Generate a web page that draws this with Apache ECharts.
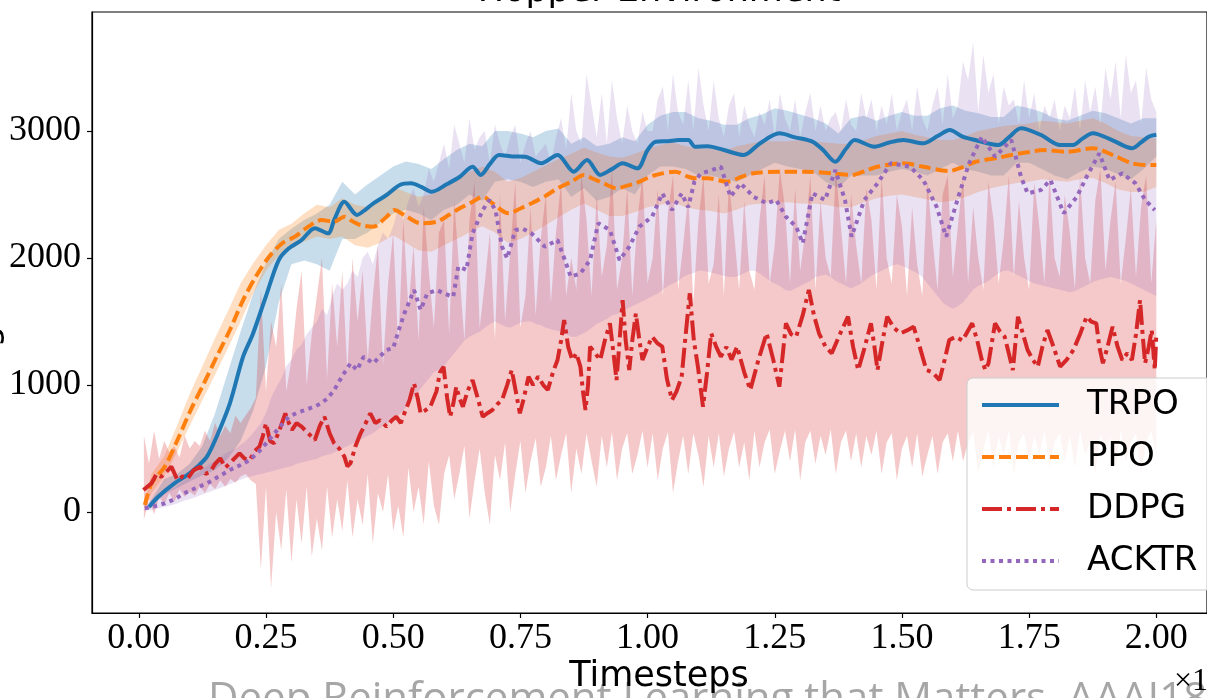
<!DOCTYPE html>
<html>
<head>
<meta charset="utf-8">
<script src="https://cdn.jsdelivr.net/npm/echarts@6/dist/echarts.min.js"></script>
<style>
  html, body { margin: 0; padding: 0; background: #ffffff; }
  #chart { width: 1207px; height: 698px; }
</style>
</head>
<body>
<div id="chart"></div>
<script>
// Axis ticks: timesteps (x 10^6) and average return
const xTicks = [0, 0.25, 0.5, 0.75, 1.0, 1.25, 1.5, 1.75, 2.0];
const yTicks = [0, 1000, 2000, 3000];
const algorithms = ['TRPO', 'PPO', 'DDPG', 'ACKTR'];

// Mean return curves: [timestep (x 10^6), average return]
const trpoMean = [
  [0.02, 40], [0.038, 120], [0.07, 226], [0.095, 290], [0.115, 357], [0.134, 436], [0.153, 593],
  [0.179, 856], [0.205, 1223], [0.224, 1400], [0.25, 1700], [0.275, 1984], [0.295, 2076], [0.32, 2142],
  [0.346, 2234], [0.372, 2194], [0.384, 2299], [0.404, 2443], [0.429, 2339], [0.445, 2380], [0.461, 2431],
  [0.487, 2496], [0.513, 2575], [0.535, 2588], [0.555, 2560], [0.576, 2522], [0.605, 2580], [0.631, 2640],
  [0.656, 2719], [0.672, 2654], [0.69, 2740], [0.708, 2811], [0.735, 2800], [0.759, 2798], [0.791, 2746],
  [0.823, 2811], [0.855, 2680], [0.881, 2772], [0.907, 2654], [0.93, 2700], [0.951, 2746], [0.98, 2706],
  [1.0, 2850], [1.016, 2916], [1.04, 2920], [1.061, 2929], [1.08, 2929], [1.093, 2877], [1.118, 2880],
  [1.15, 2850], [1.189, 2811], [1.22, 2900], [1.259, 2982], [1.29, 2950], [1.324, 2916], [1.345, 2850],
  [1.369, 2758], [1.39, 2860], [1.407, 2929], [1.446, 2877], [1.475, 2910], [1.503, 2929], [1.542, 2903],
  [1.57, 2960], [1.594, 3008], [1.619, 2955], [1.644, 2929], [1.69, 2890], [1.71, 2950], [1.734, 3021],
  [1.773, 2969], [1.811, 2890], [1.836, 2890], [1.855, 2940], [1.875, 2982], [1.913, 2929], [1.952, 2864],
  [1.97, 2910], [1.985, 2955], [2.0, 2970]
];

const ppoMean = [
  [0.012, 55], [0.025, 226], [0.051, 357], [0.076, 567], [0.102, 803], [0.128, 1013], [0.153, 1223],
  [0.179, 1433], [0.205, 1669], [0.23, 1853], [0.256, 2010], [0.282, 2116], [0.307, 2168], [0.333, 2247],
  [0.359, 2299], [0.384, 2286], [0.404, 2325], [0.42, 2290], [0.436, 2260], [0.461, 2247], [0.487, 2325],
  [0.502, 2378], [0.525, 2330], [0.554, 2273], [0.586, 2286], [0.61, 2340], [0.631, 2391], [0.655, 2440],
  [0.676, 2483], [0.695, 2431], [0.727, 2352], [0.75, 2390], [0.772, 2431], [0.8, 2490], [0.823, 2549],
  [0.85, 2600], [0.875, 2654], [0.895, 2620], [0.913, 2589], [0.939, 2549], [0.96, 2570], [0.977, 2589],
  [1.0, 2630], [1.016, 2654], [1.054, 2680], [1.08, 2640], [1.093, 2628], [1.118, 2628], [1.157, 2601],
  [1.185, 2640], [1.208, 2667], [1.259, 2680], [1.311, 2680], [1.362, 2667], [1.401, 2654], [1.43, 2690],
  [1.452, 2719], [1.503, 2746], [1.542, 2719], [1.593, 2685], [1.619, 2715], [1.645, 2758], [1.69, 2790],
  [1.715, 2811], [1.75, 2835], [1.779, 2850], [1.824, 2837], [1.876, 2864], [1.914, 2811], [1.952, 2746],
  [1.978, 2732], [2.0, 2732]
];

const ddpgMean = [
  [0.009, 173], [0.025, 226], [0.035, 300], [0.044, 278], [0.055, 320], [0.064, 357], [0.076, 252],
  [0.086, 280], [0.096, 265], [0.108, 330], [0.121, 357], [0.131, 300], [0.141, 318], [0.15, 380],
  [0.16, 423], [0.17, 350], [0.179, 383], [0.19, 430], [0.198, 462], [0.208, 420], [0.218, 409],
  [0.228, 480], [0.237, 514], [0.244, 600], [0.25, 698], [0.258, 560], [0.266, 541], [0.277, 650],
  [0.288, 777], [0.295, 700], [0.301, 646], [0.31, 700], [0.32, 672], [0.333, 620], [0.346, 567],
  [0.356, 680], [0.365, 750], [0.375, 620], [0.384, 541], [0.394, 500], [0.404, 436], [0.41, 360],
  [0.416, 383], [0.426, 520], [0.436, 620], [0.446, 700], [0.455, 777], [0.465, 700], [0.474, 724],
  [0.487, 672], [0.497, 720], [0.506, 750], [0.515, 700], [0.522, 777], [0.532, 880], [0.541, 1013],
  [0.548, 900], [0.554, 777], [0.563, 800], [0.573, 829], [0.585, 950], [0.592, 1100], [0.599, 1144],
  [0.606, 900], [0.612, 750], [0.618, 850], [0.624, 987], [0.63, 900], [0.637, 829], [0.646, 950],
  [0.656, 1039], [0.666, 900], [0.676, 750], [0.686, 780], [0.695, 803], [0.705, 850], [0.714, 882],
  [0.724, 1000], [0.733, 1118], [0.741, 950], [0.749, 777], [0.757, 900], [0.766, 1066], [0.775, 1000],
  [0.785, 1066], [0.795, 1000], [0.804, 961], [0.814, 1100], [0.823, 1197], [0.83, 1350], [0.836, 1512],
  [0.844, 1300], [0.852, 1197], [0.86, 1250], [0.868, 1144], [0.873, 950], [0.878, 803], [0.883, 1000],
  [0.887, 1302], [0.897, 1250], [0.907, 1197], [0.916, 1350], [0.926, 1486], [0.933, 1250], [0.939, 1039],
  [0.945, 1350], [0.951, 1669], [0.957, 1350], [0.964, 1118], [0.97, 1350], [0.977, 1564], [0.984, 1350],
  [0.99, 1197], [1.0, 1300], [1.009, 1380], [1.019, 1330], [1.029, 1302], [1.038, 1050], [1.048, 882],
  [1.057, 950], [1.067, 1066], [1.075, 1400], [1.083, 1722], [1.091, 1350], [1.099, 1144], [1.109, 829],
  [1.117, 1100], [1.125, 1407], [1.135, 1300], [1.144, 1223], [1.155, 1300], [1.165, 1200], [1.176, 1302],
  [1.19, 1100], [1.202, 961], [1.218, 1200], [1.234, 1407], [1.247, 1200], [1.259, 987], [1.266, 1250],
  [1.272, 1486], [1.282, 1400], [1.292, 1380], [1.305, 1550], [1.317, 1748], [1.327, 1550], [1.337, 1407],
  [1.35, 1300], [1.362, 1250], [1.378, 1400], [1.394, 1538], [1.404, 1300], [1.414, 1118], [1.427, 1300],
  [1.439, 1486], [1.446, 1300], [1.452, 1118], [1.462, 1350], [1.471, 1538], [1.484, 1450], [1.497, 1407],
  [1.51, 1430], [1.523, 1459], [1.535, 1300], [1.548, 1118], [1.56, 1100], [1.574, 1039], [1.584, 1200],
  [1.593, 1354], [1.606, 1380], [1.619, 1350], [1.638, 1486], [1.648, 1350], [1.657, 1197], [1.664, 1118],
  [1.67, 1171], [1.683, 1486], [1.693, 1420], [1.702, 1380], [1.71, 1250], [1.718, 1118], [1.728, 1538],
  [1.738, 1400], [1.747, 1276], [1.757, 1200], [1.767, 1144], [1.776, 1300], [1.786, 1433], [1.798, 1300],
  [1.811, 1144], [1.824, 1200], [1.837, 1276], [1.85, 1400], [1.863, 1538], [1.872, 1500], [1.882, 1486],
  [1.888, 1300], [1.895, 1171], [1.904, 1300], [1.914, 1459], [1.924, 1300], [1.933, 1197], [1.943, 1250],
  [1.952, 1197], [1.96, 1400], [1.968, 1669], [1.973, 1400], [1.978, 1171], [1.985, 1300], [1.991, 1433],
  [1.997, 1118], [2.0, 1400]
];

const acktrMean = [
  [0.012, 29], [0.03, 45], [0.051, 68], [0.07, 100], [0.089, 147], [0.11, 185], [0.134, 226], [0.155, 275],
  [0.179, 331], [0.2, 370], [0.218, 409], [0.237, 480], [0.256, 567], [0.275, 660], [0.295, 750], [0.31, 780],
  [0.327, 803], [0.345, 830], [0.359, 856], [0.372, 900], [0.384, 961], [0.4, 1070], [0.416, 1171],
  [0.429, 1118], [0.442, 1223], [0.461, 1171], [0.475, 1230], [0.487, 1276], [0.5, 1290], [0.51, 1420],
  [0.522, 1564], [0.541, 1748], [0.554, 1591], [0.567, 1722], [0.586, 1748], [0.6, 1720], [0.618, 1695],
  [0.628, 1932], [0.644, 1906], [0.656, 2194], [0.676, 2378], [0.689, 2457], [0.701, 2378], [0.714, 2089],
  [0.724, 1997], [0.74, 2220], [0.755, 2230], [0.772, 2194], [0.798, 2089], [0.823, 2142], [0.836, 2000],
  [0.849, 1853], [0.868, 1879], [0.887, 1984], [0.903, 2273], [0.926, 2220], [0.945, 1984], [0.964, 2089],
  [0.984, 2247], [1.009, 2325], [1.029, 2509], [1.048, 2378], [1.067, 2509], [1.08, 2400], [1.092, 2600],
  [1.105, 2667], [1.125, 2690], [1.144, 2719], [1.163, 2483], [1.183, 2588], [1.208, 2483], [1.234, 2431],
  [1.253, 2457], [1.272, 2325], [1.292, 2247], [1.305, 2116], [1.324, 2509], [1.349, 2457], [1.369, 2693],
  [1.388, 2457], [1.401, 2168], [1.426, 2457], [1.452, 2588], [1.478, 2746], [1.516, 2719], [1.542, 2614],
  [1.568, 2404], [1.587, 2168], [1.613, 2509], [1.632, 2746], [1.657, 2955], [1.683, 2798], [1.715, 2929],
  [1.734, 2640], [1.747, 2509], [1.773, 2535], [1.792, 2614], [1.818, 2352], [1.844, 2483], [1.863, 2640],
  [1.888, 2824], [1.908, 2614], [1.933, 2667], [1.959, 2588], [1.978, 2457], [1.997, 2378]
];

// Spread bands for TRPO and PPO: [timestep, lower, upper]
const trpoBand = [
  [0.02, 20, 70], [0.05, 140, 260], [0.075, 190, 300], [0.1, 240, 380], [0.125, 290, 520], [0.15, 330, 780],
  [0.175, 420, 1100], [0.2, 560, 1420], [0.225, 800, 1720], [0.25, 1150, 1960], [0.275, 1650, 2150],
  [0.3, 1950, 2230], [0.325, 1980, 2300], [0.35, 1950, 2350], [0.375, 1900, 2420], [0.4, 2150, 2600],
  [0.425, 2150, 2500], [0.45, 2200, 2580], [0.475, 2280, 2650], [0.5, 2350, 2720], [0.525, 2380, 2760],
  [0.55, 2350, 2740], [0.575, 2300, 2700], [0.6, 2380, 2780], [0.625, 2420, 2850], [0.65, 2500, 2900],
  [0.675, 2450, 2880], [0.7, 2600, 3000], [0.725, 2620, 3000], [0.75, 2600, 2980], [0.775, 2560, 2950],
  [0.8, 2600, 3000], [0.825, 2620, 3020], [0.85, 2480, 2900], [0.875, 2550, 2950], [0.9, 2450, 2880],
  [0.925, 2480, 2900], [0.95, 2550, 2950], [0.975, 2500, 2920], [1.0, 2650, 3050], [1.025, 2720, 3120],
  [1.05, 2720, 3150], [1.075, 2700, 3150], [1.1, 2650, 3100], [1.125, 2650, 3080], [1.15, 2620, 3050],
  [1.175, 2600, 3050], [1.2, 2650, 3100], [1.225, 2700, 3130], [1.25, 2750, 3180], [1.275, 2720, 3160],
  [1.3, 2700, 3130], [1.325, 2680, 3100], [1.35, 2600, 3060], [1.375, 2550, 2980], [1.4, 2650, 3100],
  [1.425, 2650, 3120], [1.45, 2650, 3080], [1.475, 2680, 3120], [1.5, 2700, 3150], [1.525, 2680, 3120],
  [1.55, 2650, 3120], [1.575, 2700, 3180], [1.6, 2750, 3200], [1.625, 2700, 3160], [1.65, 2680, 3140],
  [1.675, 2650, 3110], [1.7, 2650, 3110], [1.725, 2750, 3200], [1.75, 2750, 3180], [1.775, 2700, 3150],
  [1.8, 2650, 3100], [1.825, 2620, 3080], [1.85, 2680, 3120], [1.875, 2720, 3160], [1.9, 2700, 3140],
  [1.925, 2660, 3100], [1.95, 2620, 3060], [1.975, 2700, 3100], [2.0, 2800, 3100]
];

const ppoBand = [
  [0.012, 20, 100], [0.025, 150, 300], [0.05, 280, 440], [0.075, 470, 680], [0.1, 680, 930],
  [0.125, 880, 1150], [0.15, 1080, 1370], [0.175, 1290, 1580], [0.2, 1500, 1800], [0.225, 1720, 1960],
  [0.25, 1900, 2100], [0.275, 2020, 2220], [0.3, 2070, 2270], [0.325, 2130, 2350], [0.35, 2170, 2420],
  [0.375, 2150, 2400], [0.4, 2170, 2470], [0.425, 2100, 2420], [0.45, 2080, 2400], [0.475, 2120, 2480],
  [0.5, 2180, 2560], [0.525, 2120, 2520], [0.55, 2060, 2480], [0.575, 2050, 2500], [0.6, 2100, 2560],
  [0.625, 2150, 2620], [0.65, 2200, 2680], [0.675, 2250, 2720], [0.7, 2200, 2680], [0.725, 2120, 2600],
  [0.75, 2150, 2630], [0.775, 2200, 2680], [0.8, 2260, 2730], [0.825, 2320, 2780], [0.85, 2380, 2820],
  [0.875, 2430, 2870], [0.9, 2380, 2830], [0.925, 2330, 2800], [0.95, 2330, 2790], [0.975, 2360, 2820],
  [1.0, 2400, 2860], [1.025, 2420, 2890], [1.05, 2440, 2910], [1.075, 2400, 2880], [1.1, 2380, 2860],
  [1.125, 2370, 2860], [1.15, 2350, 2840], [1.175, 2380, 2880], [1.2, 2420, 2900], [1.225, 2430, 2920],
  [1.25, 2440, 2920], [1.275, 2440, 2920], [1.3, 2430, 2930], [1.325, 2430, 2920], [1.35, 2420, 2910],
  [1.375, 2400, 2900], [1.4, 2400, 2900], [1.425, 2440, 2930], [1.45, 2470, 2960], [1.475, 2490, 2980],
  [1.5, 2500, 3000], [1.525, 2480, 2970], [1.55, 2460, 2950], [1.575, 2440, 2930], [1.6, 2450, 2930],
  [1.625, 2480, 2960], [1.65, 2520, 3000], [1.675, 2550, 3020], [1.7, 2570, 3040], [1.725, 2590, 3050],
  [1.75, 2600, 3060], [1.775, 2620, 3080], [1.8, 2610, 3070], [1.825, 2600, 3060], [1.85, 2620, 3080],
  [1.875, 2630, 3100], [1.9, 2590, 3060], [1.925, 2540, 3000], [1.95, 2520, 2960], [1.975, 2520, 2950],
  [2.0, 2560, 2940]
];

// Spread bands for DDPG and ACKTR, one value per 0.01 x 10^6 timesteps (0.01 ... 2.00)
const ddpgLow = [
  -60, 100, -20, 120, 60, 150, 80, 180, 120, 160, 130, 200, 150, 220, 180, 250, 200, 260, 230, 280,
  300, 250, 220, -450, 200, -600, 0, -300, 180, -400, 100, -250, 200, -350, -50, -300, 200, -200, 100, -150,
  250, -200, 100, -100, 300, -250, 150, 0, 300, -150, 50, -200, 350, 0, 200, -100, 400, 50, -100, 300,
  450, 100, 300, 520, -50, 250, 500, 150, -100, 450, 250, 550, 0, 300, 560, 150, 400, 580, 200, 350,
  600, 250, 450, 620, 150, 500, 300, 620, 400, 200, 600, 350, 630, 250, 500, 620, 300, 450, 640, 350,
  620, 250, 500, 630, 150, 400, 600, 300, 620, 450, 200, 600, 350, 620, 280, 500, 630, 350, 550, 250,
  640, 350, 550, 650, 300, 480, 640, 400, 650, 250, 550, 640, 380, 600, 450, 650, 300, 550, 640, 400,
  620, 350, 600, 450, 640, 300, 550, 620, 250, 500, 600, 350, 620, 280, 450, 600, 300, 550, 620, 400,
  640, 400, 550, 630, 300, 500, 640, 350, 600, 450, 640, 300, 550, 620, 380, 600, 450, 640, 350, 550,
  620, 400, 600, 350, 640, 450, 550, 300, 620, 450, 600, 350, 640, 400, 550, 620, 300, 550, 640, 450
];
const ddpgHigh = [
  600, 380, 640, 420, 560, 470, 520, 430, 600, 500, 560, 520, 640, 560, 700, 600, 680, 620, 760, 700,
  760, 820, 900, 1750, 950, 1500, 1300, 1800, 950, 1200, 1600, 1900, 1000, 1400, 1700, 2000, 1050, 1800, 1300, 1900,
  1100, 2000, 1500, 1900, 1200, 1700, 2100, 1150, 1800, 2200, 1300, 2300, 1600, 2100, 1350, 2400, 1900, 1450, 2200, 2300,
  1400, 2450, 1900, 1350, 2300, 2600, 1450, 1800, 2200, 1350, 2500, 1500, 2050, 2600, 1450, 1700, 2400, 1550, 2150, 2500,
  1650, 2200, 2600, 1700, 2000, 1750, 2650, 2300, 1700, 2500, 1850, 2100, 2700, 1750, 2000, 2550, 1700, 2300, 2650, 1800,
  2000, 2550, 1700, 2350, 2650, 1750, 2100, 2500, 1650, 2300, 2650, 1800, 1950, 2500, 1700, 2600, 2200, 1750, 2450, 1900,
  1750, 2300, 2650, 1800, 2100, 2700, 2400, 1800, 2550, 1900, 2200, 2650, 1750, 2450, 2000, 1850, 2700, 2250, 1800, 2500,
  2100, 1800, 2550, 2300, 1750, 2650, 2000, 1800, 2500, 2250, 1700, 2400, 1950, 1700, 2600, 2150, 1750, 2500, 2650, 1850,
  2250, 2650, 1800, 2400, 2000, 1750, 2600, 2300, 1800, 2150, 2650, 1850, 2450, 2000, 1750, 2600, 2250, 1800, 2650, 2000,
  1850, 2500, 2200, 1750, 2650, 2000, 1800, 2450, 2700, 1900, 2300, 2600, 1800, 2150, 2550, 1850, 2400, 2650, 1800, 2300
];
const acktrLow = [
  10, 15, 20, 30, 40, 50, 60, 75, 90, 100, 115, 130, 145, 160, 175, 190, 205, 220, 240, 255,
  270, 280, 290, 300, 310, 320, 330, 340, 350, 360, 380, 390, 400, 410, 420, 440, 450, 460, 480, 500,
  520, 540, 560, 580, 600, 620, 650, 680, 700, 730, 760, 800, 850, 900, 950, 1000, 1050, 1100, 1120, 1150,
  1200, 1250, 1300, 1350, 1380, 1400, 1420, 1450, 1480, 1500, 1480, 1460, 1450, 1470, 1490, 1500, 1500, 1480, 1470, 1450,
  1440, 1430, 1420, 1400, 1380, 1380, 1400, 1420, 1450, 1480, 1500, 1520, 1550, 1560, 1580, 1600, 1620, 1640, 1660, 1680,
  1700, 1720, 1750, 1780, 1800, 1820, 1850, 1870, 1880, 1900, 1900, 1890, 1880, 1870, 1860, 1850, 1850, 1860, 1880, 1900,
  1900, 1880, 1850, 1820, 1800, 1780, 1750, 1740, 1760, 1780, 1800, 1820, 1850, 1860, 1870, 1850, 1820, 1800, 1780, 1760,
  1780, 1800, 1830, 1860, 1880, 1900, 1920, 1940, 1950, 1940, 1920, 1900, 1880, 1850, 1800, 1750, 1700, 1650, 1620, 1600,
  1620, 1650, 1700, 1750, 1780, 1800, 1820, 1850, 1880, 1900, 1900, 1880, 1860, 1840, 1820, 1800, 1790, 1780, 1770, 1760,
  1750, 1740, 1730, 1740, 1760, 1780, 1800, 1820, 1830, 1840, 1850, 1840, 1830, 1820, 1800, 1780, 1760, 1740, 1720, 1700
];
const acktrHigh = [
  60, 80, 100, 130, 150, 170, 190, 220, 250, 270, 300, 320, 350, 380, 400, 430, 460, 480, 500, 530,
  560, 600, 650, 700, 780, 900, 980, 1050, 1150, 1200, 1280, 1320, 1400, 1450, 1500, 1600, 1550, 1700, 1800, 1750,
  1800, 1900, 1850, 2000, 2050, 1950, 2100, 2200, 2150, 2250, 2400, 2300, 2450, 2550, 2400, 2500, 2700, 2600, 2750, 2900,
  2700, 3050, 2900, 2750, 3100, 2850, 2950, 3000, 2750, 3050, 2900, 2800, 2950, 3050, 2750, 2900, 3000, 2800, 2850, 2900,
  2750, 2950, 3100, 2850, 3300, 3000, 2900, 3450, 3200, 2950, 3300, 2900, 3400, 3100, 2900, 3200, 3000, 2900, 3150, 3000,
  3000, 3250, 3350, 3000, 3450, 3150, 3050, 3400, 3000, 3500, 3200, 3000, 3400, 3100, 2950, 3200, 3300, 2950, 3200, 3050,
  2950, 3150, 3050, 3250, 2950, 3300, 3100, 3000, 3250, 2950, 3150, 3300, 3000, 3200, 3000, 3100, 3150, 3000, 3250, 3050,
  3000, 3300, 3100, 3250, 3000, 3200, 3050, 3300, 3000, 3150, 3250, 3000, 3350, 3100, 3000, 3200, 3350, 3050, 3450, 3100,
  3200, 3550, 3400, 3700, 3150, 3600, 3300, 3450, 3050, 3350, 3200, 3250, 3050, 3400, 3100, 3300, 3000, 3200, 3100, 3250,
  3000, 3200, 3100, 3350, 3000, 3400, 3150, 3350, 3050, 3500, 3250, 3550, 3100, 3600, 3300, 3400, 3050, 3500, 3250, 3150
];

const COLORS = { TRPO: '#1f77b4', PPO: '#ff7f0e', DDPG: '#d62728', ACKTR: '#9467bd' };
const LW = 4;
const DASH = {
  TRPO: 'solid',
  PPO: [12, 5],
  DDPG: [20, 5, 4, 5],
  ACKTR: [4, 4.5]
};

// pair a per-0.01 sample list with its timestep
function gridRows(low, high) {
  return low.map((v, i) => [(i + 1) / 100, v, high[i]]);
}

// shaded spread drawn as a single polygon through the axis scales
function bandSeries(rows, color, opacity) {
  return {
    type: 'custom',
    silent: true,
    clip: true,
    data: rows,
    encode: { x: 0, y: [1, 2] },
    z: 2,
    renderItem: function (params, api) {
      if (params.dataIndex !== 0) return null;
      const upper = rows.map(r => api.coord([r[0], r[2]]));
      const lower = rows.map(r => api.coord([r[0], r[1]])).reverse();
      return {
        type: 'polygon',
        shape: { points: upper.concat(lower) },
        style: { fill: color, opacity: opacity, stroke: null }
      };
    }
  };
}

function lineSeries(name, data, smooth) {
  return {
    name: name,
    type: 'line',
    data: data,
    symbol: 'none',
    showSymbol: false,
    smooth: smooth,
    z: 3,
    itemStyle: { color: COLORS[name] },
    lineStyle: { color: COLORS[name], width: LW, type: DASH[name], cap: 'butt' }
  };
}

const chart = echarts.init(document.getElementById('chart'), null, { renderer: 'canvas' });

const option = {
  animation: false,
  backgroundColor: '#ffffff',
  grid: {
    left: 92, top: 12, right: -22, bottom: 85,
    show: true, borderColor: '#000000', borderWidth: 1.2, backgroundColor: 'transparent'
  },
  xAxis: {
    type: 'value',
    min: -0.092, max: 2.0996,
    axisLine: { onZero: false, lineStyle: { color: '#000000', width: 1.2 } },
    axisTick: { customValues: xTicks, length: 5, lineStyle: { color: '#000000', width: 1.2 } },
    axisLabel: {
      customValues: xTicks,
      margin: 8,
      color: '#000000',
      fontFamily: 'Liberation Serif',
      fontSize: 36,
      formatter: v => v.toFixed(2)
    },
    splitLine: { show: false }
  },
  yAxis: {
    type: 'value',
    min: -795, max: 3937,
    axisLine: { onZero: false, lineStyle: { color: '#000000', width: 1.2 } },
    axisTick: { customValues: yTicks, length: 5, lineStyle: { color: '#000000', width: 1.2 } },
    axisLabel: {
      customValues: yTicks,
      margin: 11,
      color: '#000000',
      fontFamily: 'Liberation Serif',
      fontSize: 36,
      formatter: v => String(v)
    },
    splitLine: { show: false }
  },
  legend: {
    data: algorithms,
    orient: 'vertical',
    left: 967, top: 378,
    padding: [7, 24, 9, 13],
    itemWidth: 77,
    itemHeight: 14,
    itemGap: 12,
    backgroundColor: 'rgba(255,255,255,0.8)',
    borderColor: '#cccccc',
    borderWidth: 1,
    borderRadius: 6,
    selectedMode: false,
    itemStyle: { opacity: 0 },
    lineStyle: { width: LW },
    textStyle: {
      fontFamily: 'DejaVu Sans',
      fontSize: 34,
      color: '#000000',
      lineHeight: 40,
      padding: [0, 0, 0, 23]
    }
  },
  graphic: [
    {
      type: 'text', x: 659, y: -8, z: 10,
      style: {
        text: 'Hopper Environment', fill: '#000000',
        font: '35px "DejaVu Sans"', textAlign: 'center', align: 'center',
        textVerticalAlign: 'middle', verticalAlign: 'middle'
      }
    },
    {
      type: 'text', x: -12, y: 312, rotation: Math.PI / 2, z: 10,
      style: {
        text: 'Average Return', fill: '#000000',
        font: '35px "DejaVu Sans"', textAlign: 'center', align: 'center',
        textVerticalAlign: 'middle', verticalAlign: 'middle'
      }
    },
    {
      type: 'text', x: 208, y: 700, z: 9,
      style: {
        text: 'Deep Reinforcement Learning that Matters, AAAI18', fill: '#a6a6a6',
        font: '42px "Open Sans"', textAlign: 'left', align: 'left',
        textVerticalAlign: 'middle', verticalAlign: 'middle'
      }
    },
    {
      type: 'text', x: 659, y: 677, z: 11,
      style: {
        text: 'Timesteps', fill: '#000000',
        font: '35px "DejaVu Sans"', textAlign: 'center', align: 'center',
        textVerticalAlign: 'middle', verticalAlign: 'middle'
      }
    },
    {
      type: 'text', x: 1174, y: 682, z: 11,
      style: {
        text: '\u00d710\u2076', fill: '#000000',
        font: '32px "Liberation Serif"', textAlign: 'left', align: 'left',
        textVerticalAlign: 'middle', verticalAlign: 'middle'
      }
    }
  ],
  series: [
    bandSeries(trpoBand, COLORS.TRPO, 0.25),
    bandSeries(ppoBand, COLORS.PPO, 0.25),
    bandSeries(gridRows(ddpgLow, ddpgHigh), COLORS.DDPG, 0.25),
    bandSeries(gridRows(acktrLow, acktrHigh), COLORS.ACKTR, 0.2),
    lineSeries('TRPO', trpoMean, 0.3),
    lineSeries('PPO', ppoMean, 0.3),
    lineSeries('DDPG', ddpgMean, false),
    lineSeries('ACKTR', acktrMean, false)
  ]
};

chart.setOption(option);
</script>
</body>
</html>
